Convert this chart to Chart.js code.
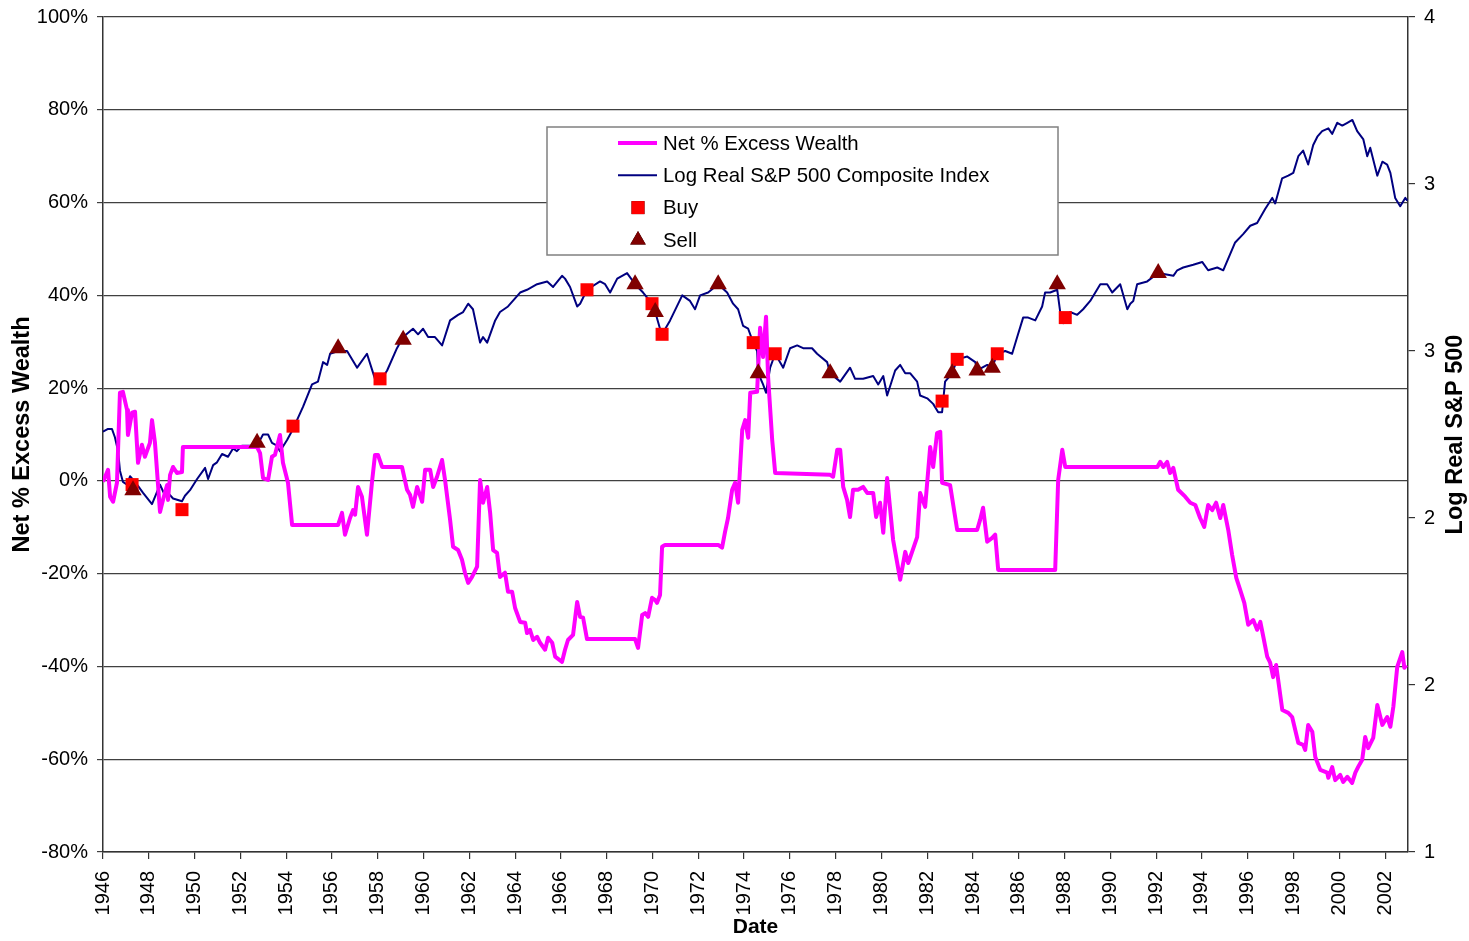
<!DOCTYPE html>
<html>
<head>
<meta charset="utf-8">
<script src="https://cdn.jsdelivr.net/npm/chart.js@4.4.1/dist/chart.umd.min.js"></script>
<style>
  html, body { margin: 0; padding: 0; background: #ffffff; }
  #wrap { width: 1469px; height: 941px; }
</style>
</head>
<body>
<div id="wrap"><canvas id="chart" width="1469" height="941"></canvas></div>
<script>
// values
const excessYears = [
    1946.00, 1946.22, 1946.31, 1946.44, 1946.61, 1946.74, 1946.87, 1947.05, 1947.09, 1947.27,
    1947.40, 1947.53, 1947.70, 1947.83, 1948.05, 1948.14, 1948.27, 1948.49, 1948.62, 1948.80,
    1948.84, 1948.93, 1949.06, 1949.23, 1949.45, 1949.49, 1952.73, 1952.86, 1952.99, 1953.21,
    1953.38, 1953.51, 1953.73, 1953.86, 1954.08, 1954.26, 1956.27, 1956.44, 1956.57, 1956.79,
    1956.92, 1957.01, 1957.14, 1957.31, 1957.53, 1957.75, 1957.88, 1958.01, 1958.19, 1959.06,
    1959.28, 1959.41, 1959.54, 1959.72, 1959.94, 1960.07, 1960.29, 1960.42, 1960.59, 1960.81,
    1960.94, 1961.16, 1961.29, 1961.51, 1961.68, 1961.81, 1961.95, 1962.12, 1962.34, 1962.47,
    1962.60, 1962.78, 1962.91, 1963.04, 1963.21, 1963.34, 1963.56, 1963.69, 1963.87, 1964.00,
    1964.22, 1964.44, 1964.52, 1964.65, 1964.79, 1964.96, 1965.09, 1965.31, 1965.44, 1965.62,
    1965.75, 1966.05, 1966.18, 1966.31, 1966.53, 1966.71, 1966.84, 1966.97, 1967.14, 1969.24,
    1969.37, 1969.55, 1969.68, 1969.81, 1969.98, 1970.12, 1970.20, 1970.33, 1970.42, 1970.55,
    1972.87, 1973.04, 1973.17, 1973.30, 1973.48, 1973.61, 1973.74, 1973.92, 1974.05, 1974.18,
    1974.27, 1974.57, 1974.62, 1974.70, 1974.83, 1974.96, 1975.05, 1975.23, 1975.36, 1977.76,
    1977.89, 1978.07, 1978.20, 1978.33, 1978.50, 1978.63, 1978.76, 1978.98, 1979.20, 1979.38,
    1979.64, 1979.77, 1979.94, 1980.08, 1980.25, 1980.51, 1980.82, 1981.04, 1981.17, 1981.34,
    1981.56, 1981.69, 1981.91, 1982.13, 1982.26, 1982.43, 1982.57, 1982.65, 1983.00, 1983.31,
    1984.18, 1984.31, 1984.44, 1984.62, 1984.84, 1984.97, 1985.10, 1987.59, 1987.72, 1987.90,
    1988.03, 1992.05, 1992.18, 1992.31, 1992.48, 1992.61, 1992.75, 1992.96, 1993.27, 1993.49,
    1993.71, 1993.92, 1994.10, 1994.27, 1994.45, 1994.62, 1994.80, 1994.93, 1995.15, 1995.32,
    1995.50, 1995.67, 1995.85, 1996.02, 1996.24, 1996.41, 1996.55, 1996.68, 1996.85, 1996.98,
    1997.11, 1997.24, 1997.51, 1997.77, 1997.94, 1998.21, 1998.42, 1998.51, 1998.64, 1998.82,
    1998.95, 1999.17, 1999.47, 1999.52, 1999.69, 1999.82, 2000.04, 2000.17, 2000.35, 2000.56,
    2000.70, 2000.83, 2001.00, 2001.13, 2001.26, 2001.48, 2001.66, 2001.88, 2002.09, 2002.23,
    2002.36, 2002.53, 2002.75, 2002.84, 2002.92
];
const excessValues = [
    -0.2, 2.4, -3.4, -4.5, -0.4, 19.0, 19.2, 15.3, 9.9, 14.7,
    14.9, 3.9, 7.8, 5.2, 8.2, 13.1, 8.2, -6.7, -4.1, -0.9,
    -4.1, 1.3, 3.0, 1.7, 1.9, 7.3, 7.3, 6.0, 0.6, 0.2,
    5.2, 5.6, 9.9, 3.9, -0.4, -9.5, -9.5, -6.9, -11.6, -8.0,
    -6.3, -7.3, -1.3, -3.4, -11.6, -0.2, 5.6, 5.6, 3.0, 3.0,
    -1.9, -3.0, -5.6, -1.3, -4.5, 2.4, 2.4, -1.3, 0.9, 4.5,
    0.2, -8.4, -14.2, -14.9, -17.0, -19.8, -22.0, -20.7, -18.5, 0.2,
    -4.7, -1.3, -6.9, -14.9, -15.5, -20.7, -19.8, -23.9, -23.9, -27.4,
    -30.4, -30.6, -32.8, -32.1, -34.3, -33.6, -34.9, -36.4, -33.8, -34.9,
    -37.9, -39.0, -36.4, -34.3, -33.2, -26.1, -29.3, -29.5, -34.1, -34.1,
    -36.0, -28.9, -28.5, -29.3, -25.2, -25.7, -26.3, -24.6, -14.2, -13.8,
    -13.8, -14.4, -11.0, -8.0, -1.9, -0.4, -4.7, 11.0, 13.1, 9.3,
    19.0, 19.2, 24.6, 33.0, 26.7, 35.4, 22.4, 8.8, 1.7, 1.3,
    0.9, 6.7, 6.7, -1.3, -4.1, -7.8, -1.9, -1.9, -1.3, -2.6,
    -2.6, -7.8, -4.7, -11.2, 0.6, -12.7, -21.3, -15.3, -17.7, -15.3,
    -12.1, -2.6, -5.6, 7.3, 3.0, 10.3, 10.6, -0.4, -0.9, -10.6,
    -10.6, -8.4, -5.8, -13.1, -12.3, -11.6, -19.2, -19.2, 0.2, 6.7,
    3.0, 3.0, 4.1, 3.0, 4.1, 1.7, 2.8, -1.9, -3.4, -4.7,
    -5.2, -8.0, -9.9, -5.2, -6.3, -4.7, -8.0, -5.2, -10.6, -16.0,
    -20.9, -23.5, -26.3, -31.0, -30.0, -32.1, -30.4, -33.6, -37.9, -39.2,
    -42.3, -39.7, -49.4, -50.0, -50.9, -56.5, -56.9, -58.0, -52.6, -54.1,
    -59.5, -62.3, -62.9, -64.0, -61.7, -64.5, -63.4, -64.9, -63.8, -65.1,
    -62.9, -61.6, -60.1, -55.2, -57.6, -55.4, -48.3, -52.6, -50.9, -53.0,
    -48.7, -40.1, -36.9, -40.3, -39.7
];

const spYears = [
    1946.00, 1946.22, 1946.39, 1946.52, 1946.66, 1946.74, 1946.87, 1947.05, 1947.18, 1947.40,
    1947.75, 1948.14, 1948.49, 1948.71, 1948.84, 1949.06, 1949.45, 1949.58, 1949.80, 1950.11,
    1950.46, 1950.59, 1950.81, 1950.98, 1951.20, 1951.46, 1951.68, 1951.85, 1952.07, 1952.42,
    1952.73, 1952.99, 1953.21, 1953.38, 1953.60, 1953.73, 1954.04, 1954.30, 1954.74, 1955.13,
    1955.39, 1955.61, 1955.79, 1955.92, 1956.27, 1956.66, 1957.10, 1957.53, 1957.88, 1958.10,
    1958.41, 1958.84, 1959.11, 1959.54, 1959.76, 1959.98, 1960.20, 1960.50, 1960.81, 1961.16,
    1961.51, 1961.73, 1961.95, 1962.16, 1962.47, 1962.60, 1962.78, 1963.13, 1963.34, 1963.69,
    1964.22, 1964.52, 1964.96, 1965.40, 1965.66, 1966.05, 1966.18, 1966.40, 1966.71, 1966.84,
    1967.14, 1967.71, 1967.93, 1968.15, 1968.46, 1968.89, 1969.24, 1969.59, 1969.98, 1970.12,
    1970.33, 1970.42, 1970.77, 1971.30, 1971.64, 1971.86, 1972.08, 1972.43, 1972.87, 1973.26,
    1973.52, 1973.74, 1973.96, 1974.18, 1974.40, 1974.57, 1974.62, 1974.83, 1974.96, 1975.14,
    1975.36, 1975.71, 1976.01, 1976.32, 1976.58, 1976.97, 1977.19, 1977.63, 1977.76, 1978.20,
    1978.63, 1978.85, 1979.20, 1979.64, 1979.86, 1980.08, 1980.25, 1980.60, 1980.82, 1981.04,
    1981.26, 1981.56, 1981.69, 1982.00, 1982.26, 1982.48, 1982.65, 1982.78, 1983.09, 1983.31,
    1983.75, 1984.10, 1984.18, 1984.62, 1984.84, 1985.06, 1985.41, 1985.71, 1985.93, 1986.19,
    1986.41, 1986.72, 1987.02, 1987.15, 1987.37, 1987.68, 1987.81, 1987.94, 1988.24, 1988.55,
    1988.81, 1989.12, 1989.56, 1989.86, 1990.08, 1990.43, 1990.74, 1990.87, 1991.00, 1991.17,
    1991.61, 1992.09, 1992.75, 1992.92, 1993.18, 1993.62, 1994.01, 1994.27, 1994.67, 1994.93,
    1995.45, 1995.80, 1996.11, 1996.41, 1996.76, 1997.07, 1997.20, 1997.50, 1997.77, 1997.99,
    1998.21, 1998.42, 1998.64, 1998.86, 1999.04, 1999.25, 1999.52, 1999.69, 1999.91, 2000.13,
    2000.35, 2000.57, 2000.78, 2001.05, 2001.22, 2001.35, 2001.66, 2001.88, 2002.09, 2002.23,
    2002.44, 2002.66, 2002.88, 2002.97
];
const spValues = [
    2.51, 2.52, 2.52, 2.49, 2.44, 2.37, 2.33, 2.32, 2.35, 2.33,
    2.29, 2.25, 2.32, 2.28, 2.29, 2.27, 2.26, 2.28, 2.30, 2.34,
    2.38, 2.34, 2.39, 2.40, 2.43, 2.42, 2.45, 2.44, 2.46, 2.46,
    2.46, 2.50, 2.50, 2.47, 2.46, 2.44, 2.48, 2.52, 2.60, 2.68,
    2.69, 2.76, 2.75, 2.79, 2.80, 2.80, 2.74, 2.79, 2.70, 2.69,
    2.73, 2.81, 2.85, 2.88, 2.86, 2.88, 2.85, 2.85, 2.82, 2.91,
    2.93, 2.94, 2.97, 2.95, 2.83, 2.85, 2.83, 2.91, 2.94, 2.96,
    3.01, 3.02, 3.04, 3.05, 3.03, 3.07, 3.06, 3.03, 2.96, 2.97,
    3.02, 3.05, 3.04, 3.01, 3.06, 3.08, 3.04, 3.01, 2.97, 2.94,
    2.88, 2.86, 2.91, 3.00, 2.98, 2.95, 3.00, 3.01, 3.04, 3.01,
    2.97, 2.95, 2.89, 2.88, 2.83, 2.80, 2.72, 2.68, 2.65, 2.74,
    2.79, 2.74, 2.81, 2.82, 2.81, 2.81, 2.79, 2.76, 2.72, 2.69,
    2.74, 2.70, 2.70, 2.71, 2.68, 2.71, 2.64, 2.73, 2.75, 2.72,
    2.72, 2.69, 2.64, 2.63, 2.61, 2.58, 2.58, 2.69, 2.72, 2.77,
    2.78, 2.76, 2.73, 2.75, 2.74, 2.79, 2.80, 2.79, 2.85, 2.92,
    2.92, 2.91, 2.96, 3.01, 3.01, 3.02, 2.94, 2.90, 2.94, 2.93,
    2.95, 2.98, 3.04, 3.04, 3.01, 3.04, 2.95, 2.97, 2.98, 3.04,
    3.05, 3.08, 3.07, 3.09, 3.10, 3.11, 3.12, 3.09, 3.10, 3.09,
    3.19, 3.22, 3.25, 3.26, 3.31, 3.35, 3.33, 3.42, 3.43, 3.44,
    3.50, 3.52, 3.47, 3.54, 3.57, 3.59, 3.60, 3.58, 3.62, 3.61,
    3.62, 3.63, 3.59, 3.56, 3.50, 3.53, 3.43, 3.48, 3.47, 3.44,
    3.35, 3.32, 3.35, 3.34
];

const buyYears = [1947.27, 1949.45, 1954.30, 1958.10, 1967.14, 1969.98, 1970.42, 1974.40, 1975.36, 1982.65, 1983.31, 1985.06, 1988.03];
const buyValues = [2.32, 2.23, 2.53, 2.70, 3.02, 2.97, 2.86, 2.83, 2.79, 2.62, 2.77, 2.79, 2.92];

const sellYears = [1947.31, 1952.73, 1956.27, 1959.11, 1969.24, 1970.12, 1972.87, 1974.62, 1977.76, 1983.09, 1984.18, 1984.84, 1987.68, 1992.09];
const sellValues = [2.30, 2.47, 2.81, 2.84, 3.04, 2.94, 3.04, 2.72, 2.72, 2.72, 2.73, 2.74, 3.04, 3.08];

const yearTicks = [1946, 1948, 1950, 1952, 1954, 1956, 1958, 1960, 1962, 1964, 1966, 1968, 1970, 1972,
    1974, 1976, 1978, 1980, 1982, 1984, 1986, 1988, 1990, 1992, 1994, 1996, 1998, 2000, 2002];
const yearMin = 1946;
const yearMax = 2003;
const wealthMin = -80;
const wealthMax = 100;
const wealthStep = 20;
const logMin = 1;
const logMax = 4;
const logTickCount = 6;

const seriesLabels = ["Net % Excess Wealth", "Log Real S&P 500 Composite Index", "Buy", "Sell"];
const leftTitle = "Net % Excess Wealth";
const rightTitle = "Log Real S&P 500";
const bottomTitle = "Date";

const FONT = '"Liberation Sans", Arial, Helvetica, sans-serif';

function toPoints(xs, ys) {
    return xs.map((x, i) => ({ x: x, y: ys[i] }));
}

const titlesPlugin = {
    id: "axisTitles",
    afterDraw(chart) {
        const { ctx, chartArea } = chart;
        const midY = (chartArea.top + chartArea.bottom) / 2;
        const midX = (chartArea.left + chartArea.right) / 2;
        ctx.save();
        ctx.fillStyle = "#000";
        ctx.textAlign = "center";
        ctx.textBaseline = "middle";
        ctx.font = `bold 23.5px ${FONT}`;

        ctx.save();
        ctx.translate(chartArea.left - 80, midY);
        ctx.rotate(-Math.PI / 2);
        ctx.fillText(leftTitle, 0, 0);
        ctx.restore();

        ctx.save();
        ctx.translate(chartArea.right + 48, midY);
        ctx.rotate(-Math.PI / 2);
        ctx.fillText(rightTitle, 0, 0);
        ctx.restore();

        ctx.font = `bold 21px ${FONT}`;
        ctx.fillText(bottomTitle, midX, chartArea.bottom + 75);
        ctx.restore();
    }
};

const legendPlugin = {
    id: "boxLegend",
    afterDraw(chart) {
        const { ctx } = chart;
        const box = { x: 547, y: 127, w: 511, h: 128 };
        const rowGap = 32.3;
        ctx.save();
        ctx.fillStyle = "#ffffff";
        ctx.fillRect(box.x, box.y, box.w, box.h);
        ctx.strokeStyle = "#808080";
        ctx.lineWidth = 1.5;
        ctx.strokeRect(box.x, box.y, box.w, box.h);

        const ds = chart.data.datasets;
        ctx.font = `20.4px ${FONT}`;
        ctx.textBaseline = "middle";
        ctx.textAlign = "left";
        ds.forEach((d, i) => {
            const cy = box.y + 16 + i * rowGap;
            if (d.type === "line" && d.showLine !== false) {
                ctx.strokeStyle = d.borderColor;
                ctx.lineWidth = d.borderWidth;
                ctx.beginPath();
                ctx.moveTo(box.x + 71, cy);
                ctx.lineTo(box.x + 110, cy);
                ctx.stroke();
            } else {
                Chart.helpers.drawPoint(ctx, {
                    pointStyle: d.pointStyle,
                    radius: d.legendRadius,
                    rotation: 0,
                    borderWidth: 0
                }, box.x + 91, cy);
                ctx.fillStyle = d.backgroundColor;
                ctx.fill();
            }
            ctx.fillStyle = "#000";
            ctx.fillText(d.label, box.x + 116, cy + 1);
        });
        ctx.restore();
    }
};

function noVerticalPadding(scale) {
    scale.paddingTop = 0;
    scale.paddingBottom = 0;
}

new Chart(document.getElementById("chart"), {
    data: {
        datasets: [
            {
                type: "line",
                label: seriesLabels[0],
                data: toPoints(excessYears, excessValues),
                borderColor: "#ff00ff",
                backgroundColor: "#ff00ff",
                borderWidth: 4,
                borderJoinStyle: "round",
                pointRadius: 0,
                tension: 0,
                yAxisID: "y",
                order: 2
            },
            {
                type: "line",
                label: seriesLabels[1],
                data: toPoints(spYears, spValues),
                borderColor: "#000080",
                backgroundColor: "#000080",
                borderWidth: 2,
                borderJoinStyle: "round",
                pointRadius: 0,
                tension: 0,
                yAxisID: "y1",
                order: 3
            },
            {
                type: "scatter",
                label: seriesLabels[2],
                data: toPoints(buyYears, buyValues),
                showLine: false,
                pointStyle: "rect",
                pointRadius: 9.2,
                legendRadius: 9.2,
                pointBorderWidth: 0,
                backgroundColor: "#ff0000",
                borderColor: "#ff0000",
                yAxisID: "y1",
                order: 1
            },
            {
                type: "scatter",
                label: seriesLabels[3],
                data: toPoints(sellYears, sellValues),
                showLine: false,
                pointStyle: "triangle",
                pointRadius: 10,
                legendRadius: 9,
                pointBorderWidth: 0,
                backgroundColor: "#800000",
                borderColor: "#800000",
                yAxisID: "y1",
                order: 0
            }
        ]
    },
    options: {
        responsive: false,
        animation: false,
        events: [],
        layout: { padding: { top: 17, left: 0, right: 0, bottom: 0 } },
        plugins: {
            legend: { display: false },
            tooltip: { enabled: false },
            title: { display: false }
        },
        scales: {
            x: {
                type: "linear",
                position: "bottom",
                min: yearMin,
                max: yearMax,
                afterFit(scale) { scale.height = 89; },
                afterBuildTicks(scale) {
                    scale.ticks = yearTicks.map(v => ({ value: v }));
                },
                ticks: {
                    minRotation: 90,
                    maxRotation: 90,
                    autoSkip: false,
                    padding: 12,
                    color: "#000",
                    font: { family: FONT, size: 20 },
                    callback(value) { return String(value); }
                },
                grid: {
                    drawOnChartArea: false,
                    drawTicks: true,
                    tickLength: 7,
                    color: "#333",
                    lineWidth: 1.2
                },
                border: { display: true, color: "#333", width: 1.5 }
            },
            y: {
                type: "linear",
                position: "left",
                min: wealthMin,
                max: wealthMax,
                afterFit(scale) { scale.width = 103; noVerticalPadding(scale); },
                ticks: {
                    stepSize: wealthStep,
                    padding: 9,
                    color: "#000",
                    font: { family: FONT, size: 20 },
                    callback(value) { return `${value}%`; }
                },
                grid: {
                    drawOnChartArea: true,
                    drawTicks: true,
                    tickLength: 6,
                    color: "#404040",
                    lineWidth: 1.2
                },
                border: { display: true, color: "#333", width: 1.5 }
            },
            y1: {
                type: "linear",
                position: "right",
                min: logMin,
                max: logMax,
                afterFit(scale) { scale.width = 61; noVerticalPadding(scale); },
                ticks: {
                    count: logTickCount,
                    padding: 9,
                    color: "#000",
                    font: { family: FONT, size: 20 },
                    callback(value) { return String(Math.round(value)); }
                },
                grid: {
                    drawOnChartArea: false,
                    drawTicks: true,
                    tickLength: 7,
                    color: "#333",
                    lineWidth: 1.2
                },
                border: { display: true, color: "#333", width: 1.5 }
            }
        }
    },
    plugins: [titlesPlugin, legendPlugin]
});
</script>
</body>
</html>
